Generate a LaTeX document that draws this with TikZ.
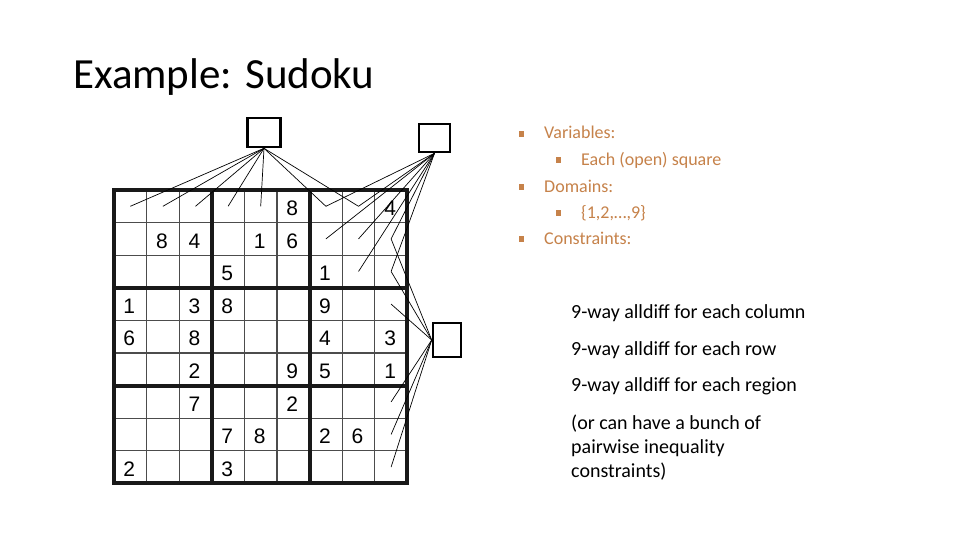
\documentclass[tikz,border=0pt]{standalone}
\usepackage{fontspec}
\setmainfont{Carlito}
\newfontfamily\digitfont{Liberation Sans}
\definecolor{orng}{RGB}{198,130,74}
\begin{document}
\begin{tikzpicture}[x=1pt,y=-1pt,
  thinline/.style={line width=1.1pt, black!70},
  thickline/.style={line width=4pt, black!90, line cap=rect},
  digit/.style={font=\digitfont\fontsize{21}{21}\selectfont, inner sep=0pt},
  cons/.style={draw, line width=2.6pt, fill=white, inner sep=0pt},
  link/.style={line width=0.7pt},
  title/.style={font=\fontsize{43}{43}\selectfont, inner sep=0pt, anchor=base west},
  otext/.style={font=\fontsize{18}{18}\selectfont, text=orng, inner sep=0pt, anchor=base west},
  btext/.style={font=\fontsize{20}{20}\selectfont, inner sep=0pt, anchor=base west},
  bul/.style={fill=orng, inner sep=0pt, minimum size=5.5pt}
]
\useasboundingbox[fill=white] (0,0) rectangle (960,540);
\def\X{114}\def\Y{190}\def\C{32.6}
% grid
\foreach \k in {1,2,4,5,7,8}{
  \draw[thinline] ({\X+\k*\C},\Y) -- ({\X+\k*\C},{\Y+9*\C});
  \draw[thinline] (\X,{\Y+\k*\C}) -- ({\X+9*\C},{\Y+\k*\C});
}
\foreach \k in {0,3,6,9}{
  \draw[thickline] ({\X+\k*\C},\Y) -- ({\X+\k*\C},{\Y+9*\C});
  \draw[thickline] (\X,{\Y+\k*\C}) -- ({\X+9*\C},{\Y+\k*\C});
}
% cell centres
\foreach \i in {1,...,9}{
  \foreach \j in {1,...,9}{
    \coordinate (c\i\j) at ({\X+(\j-0.5)*\C},{\Y+(\i-0.5)*\C});
  }
}
% digits
\foreach \i/\j/\d in {1/6/8,1/9/4,2/2/8,2/3/4,2/5/1,2/6/6,3/4/5,3/7/1,
  4/1/1,4/3/3,4/4/8,4/7/9,5/1/6,5/3/8,5/7/4,5/9/3,6/3/2,6/6/9,6/7/5,6/9/1,
  7/3/7,7/6/2,8/4/7,8/5/8,8/7/2,8/8/6,9/1/2,9/4/3}{
  \node[digit] (d\i\j) at ([xshift=-1pt,yshift=-2pt]c\i\j) {\d};
}
% constraint squares
\node[cons, minimum width=33pt, minimum height=29pt] (sq1) at (264,132.5) {};
\node[cons, minimum width=31pt, minimum height=28pt] (sq2) at (434.5,138) {};
\node[cons, minimum width=28pt, minimum height=34pt] (sq3) at (447,340) {};
% links
\foreach \c in {c11,c12,c13,c14,c15,c17,c18}{
  \draw[link] (sq1.south) -- (\c);
}
\foreach \c in {c17,c18,c27,c28,c29,c38,c39}{
  \draw[link] (sq2.south) -- (\c);
}
\foreach \c in {c29,c39,c49,c79,c89,c99}{
  \draw[link] (sq3.west) -- (\c);
}
% redraw squares on top
\node[cons, minimum width=33pt, minimum height=29pt] at (sq1) {};
\node[cons, minimum width=31pt, minimum height=28pt] at (sq2) {};
\node[cons, minimum width=28pt, minimum height=34pt] at (sq3) {};
% title
\node[title] (ttl) at (73,89) {Example: Sudoku};
% orange bullets
\node[otext] (t1) at (544,139) {Variables:};
\node[otext] (t2) at (581,165) {Each (open) square};
\node[otext] (t3) at (544,192) {Domains:};
\node[otext] (t4) at (581,218) {\{1,2,…,9\}};
\node[otext] (t5) at (544,244) {Constraints:};
\node[bul] (b1) at (521.5,134) {};
\node[bul] (b2) at (558.5,160) {};
\node[bul] (b3) at (521.5,187) {};
\node[bul] (b4) at (558.5,213) {};
\node[bul] (b5) at (521.5,239) {};
% black text
\node[btext] (k1) at (571,318) {9-way alldiff for each column};
\node[btext] (k2) at (571,355) {9-way alldiff for each row};
\node[btext] (k3) at (571,391) {9-way alldiff for each region};
\node[btext] (k4) at (571,429) {(or can have a bunch of};
\node[btext] (k5) at (571,453) {pairwise inequality};
\node[btext] (k6) at (571,477) {constraints)};
\end{tikzpicture}
\end{document}
